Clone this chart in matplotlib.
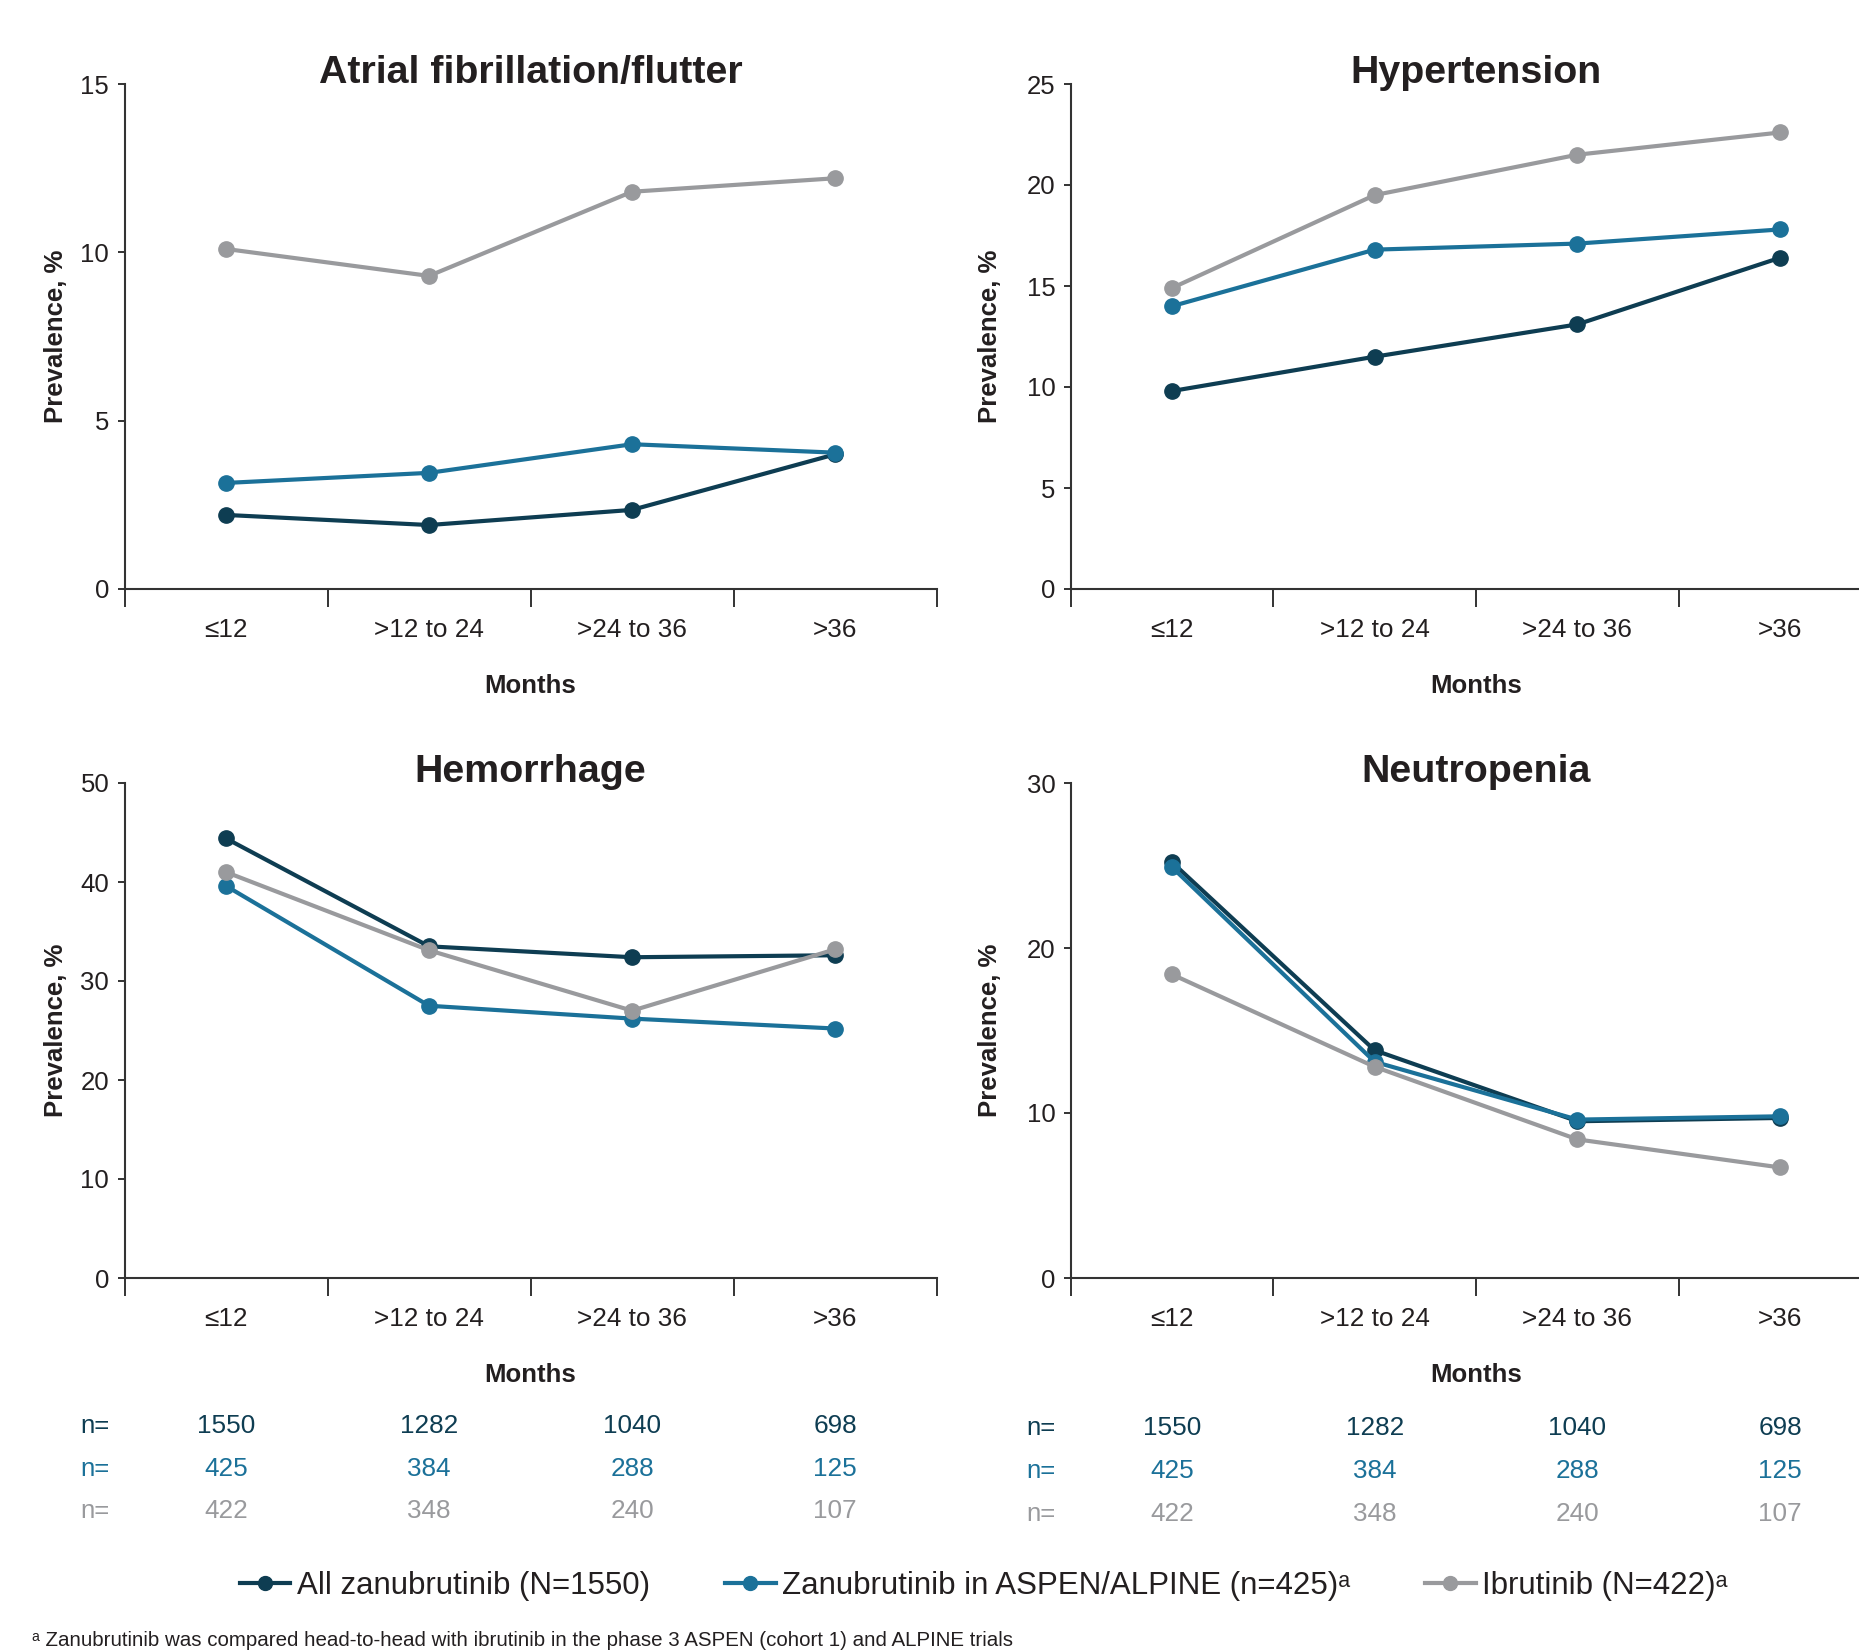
import numpy as np
import matplotlib.pyplot as plt
from matplotlib.transforms import blended_transform_factory

plt.rcParams['font.family'] = ['Liberation Sans', 'DejaVu Sans']

# data
periods = ["≤12", ">12 to 24", ">24 to 36", ">36"]
series_names = ["All zanubrutinib (N=1550)",
                "Zanubrutinib in ASPEN/ALPINE (n=425)ᵃ",
                "Ibrutinib (N=422)ᵃ"]
colors = ["#0e3d52", "#1b7199", "#999a9d"]

afib_all = [2.2, 1.9, 2.35, 4.0]
afib_aa = [3.15, 3.45, 4.3, 4.05]
afib_ibr = [10.1, 9.3, 11.8, 12.2]

htn_all = [9.8, 11.5, 13.1, 16.4]
htn_aa = [14.0, 16.8, 17.1, 17.8]
htn_ibr = [14.9, 19.5, 21.5, 22.6]

hem_all = [44.4, 33.5, 32.4, 32.6]
hem_aa = [39.6, 27.5, 26.2, 25.2]
hem_ibr = [41.0, 33.1, 27.0, 33.2]

neu_all = [25.2, 13.8, 9.5, 9.7]
neu_aa = [24.9, 13.1, 9.6, 9.8]
neu_ibr = [18.4, 12.8, 8.4, 6.7]

n_all = [1550, 1282, 1040, 698]
n_aa = [425, 384, 288, 125]
n_ibr = [422, 348, 240, 107]

panels = [
    ("Atrial fibrillation/flutter", [afib_all, afib_aa, afib_ibr], 15, 5),
    ("Hypertension", [htn_all, htn_aa, htn_ibr], 25, 5),
    ("Hemorrhage", [hem_all, hem_aa, hem_ibr], 50, 10),
    ("Neutropenia", [neu_all, neu_aa, neu_ibr], 30, 10),
]

W, H = 1859, 1650
fig = plt.figure(figsize=(W / 100, H / 100), dpi=100)

# axes rectangles in pixels: left, right, top, bottom
rects = [(124.5, 936.6, 84, 589),
         (1070.6, 1881.5, 84, 589),
         (124.5, 936.6, 783, 1278),
         (1070.6, 1881.5, 783, 1278)]
ylab_off = [69, 81, 69, 81]

text_col = "#231f20"
x = np.arange(len(periods)) + 0.5
axes = []
for i, (title, vals, ymax, step) in enumerate(panels):
    l, r, t, b = rects[i]
    ax = fig.add_axes([l / W, 1 - b / H, (r - l) / W, (b - t) / H])
    axes.append(ax)
    for v, c in zip(vals, colors):
        ax.plot(x, v, color=c, lw=3, marker="o", ms=11, zorder=3)
    ax.set_xlim(0, 4)
    ax.set_ylim(0, ymax)
    ax.set_yticks(np.arange(0, ymax + 1, step))
    ax.set_xticks(np.arange(5))
    ax.set_xticklabels([])
    ax.set_xticks(x, minor=True)
    ax.set_xticklabels(periods, minor=True)
    ax.tick_params(axis="x", which="major", length=13, width=1.4,
                   direction="out", color="#333333")
    ax.tick_params(axis="x", which="minor", length=0, pad=21,
                   labelsize=18.8, labelcolor=text_col)
    ax.tick_params(axis="y", length=5, width=1.4, pad=6, labelsize=18.5,
                   labelcolor=text_col, color="#333333")
    for s in ["top", "right"]:
        ax.spines[s].set_visible(False)
    for s in ["left", "bottom"]:
        ax.spines[s].set_linewidth(1.5)
        ax.spines[s].set_color("#333333")
    ax.text(0.5, 1.0 + 11 / (b - t), title, transform=ax.transAxes,
            ha="center", va="center", fontsize=28.4, fontweight="bold",
            color=text_col)
    ax.text(0.5, -97 / (b - t), "Months", transform=ax.transAxes,
            ha="center", va="center", fontsize=18.5, fontweight="bold",
            color=text_col)
    ax.text(-ylab_off[i] / (r - l), 0.5, "Prevalence, %",
            transform=ax.transAxes, rotation=90, ha="center", va="center",
            fontsize=18.5, fontweight="bold", color=text_col)

# n= rows under the bottom panels
rows_y = [[1426, 1469, 1511], [1428, 1471, 1514]]
n_left = [80, 1026]
for j, ax in enumerate(axes[2:]):
    tr = blended_transform_factory(ax.transData, fig.transFigure)
    for k, (ns, c) in enumerate(zip([n_all, n_aa, n_ibr], colors)):
        yy = 1 - rows_y[j][k] / H
        fig.text(n_left[j] / W, yy, "n=", ha="left", va="center",
                 fontsize=18.5, color=c)
        for xi, n in zip(x, ns):
            ax.text(xi, yy, str(n), transform=tr, ha="center", va="center",
                    fontsize=18.8, color=c)

handles = [plt.Line2D([], [], color=c, lw=3, marker="o", ms=10)
           for c in colors]
fig.legend(handles, series_names, loc="center", ncol=3,
           bbox_to_anchor=(0.529, 1 - 1586 / H), frameon=False,
           fontsize=22.5, handlelength=1.63, handletextpad=0.2,
           columnspacing=2.4, labelcolor=text_col)

fig.text(32 / W, 1 - 1640 / H,
         "ᵃ Zanubrutinib was compared head-to-head with ibrutinib in the "
         "phase 3 ASPEN (cohort 1) and ALPINE trials",
         ha="left", va="center", fontsize=14.8, color=text_col)

fig.savefig("out.png", dpi=100)
